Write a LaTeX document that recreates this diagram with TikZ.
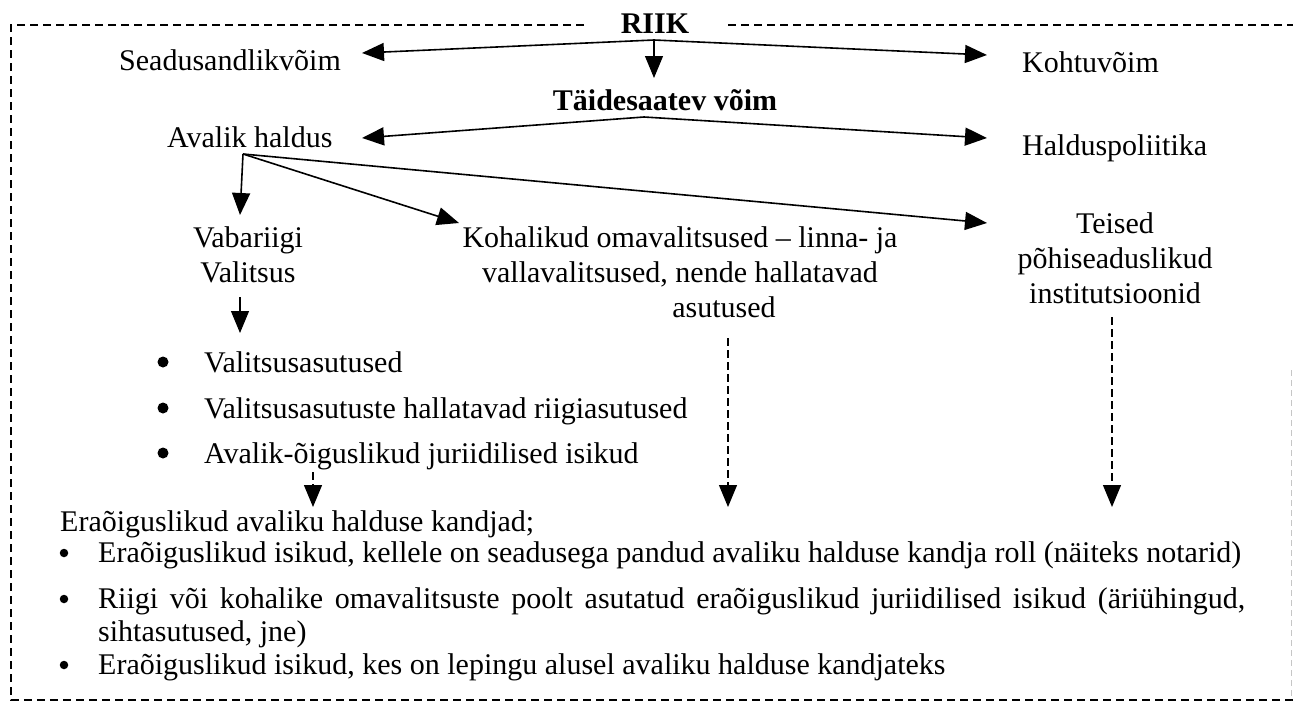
\documentclass[tikz,border=0pt]{standalone}
\usepackage{fontspec}
\setmainfont{Liberation Serif}
\usetikzlibrary{arrows.meta}
\begin{document}
\begin{tikzpicture}[x=1pt,y=-1pt,
  txt/.style={inner sep=0pt, font=\fontsize{30}{35}\selectfont},
  txt1/.style={txt, text height=20pt, text depth=0pt},
  btxt/.style={txt1, font=\fontsize{30}{35}\selectfont\bfseries},
  arr/.style={line width=1.6pt, -{Triangle[length=22pt,width=18pt]}},
  darr/.style={line width=1.3pt, dash pattern=on 8pt off 4pt, -{Triangle[length=22pt,width=18pt]}},
  frame/.style={line width=1.7pt, dash pattern=on 8pt off 5pt},
  bigdot/.style={circle, fill=black, inner sep=0pt, minimum size=11pt},
  smalldot/.style={circle, fill=black, inner sep=0pt, minimum size=8.5pt},
]
\useasboundingbox (0,0) rectangle (1293,704);

% frame
\draw[frame] (584,25) -- (11,25) -- (11,700) -- (1293,700);
\draw[frame] (728,25) -- (1293,25);
\draw[gray!45, line width=1pt, dash pattern=on 6pt off 4pt] (1291,370) -- (1291,700);

% texts
\node[btxt] (riik) at (655,23) {RIIK};
\node[txt1,anchor=west] (seadus) at (119,60) {Seadusandlikvõim};
\node[txt1,anchor=west] (kohtu) at (1022,62) {Kohtuvõim};
\node[btxt] (taide) at (665,100) {Täidesaatev võim};
\node[txt1,anchor=west] (avalik) at (167,137) {Avalik haldus};
\node[txt1,anchor=west] (haldpol) at (1022,145) {Halduspoliitika};
\node[txt,align=center] (vabariigi) at (248,255) {Vabariigi\\Valitsus};
\node[txt,align=center] (kohalik) at (680,272) {Kohalikud omavalitsused – linna- ja\\vallavalitsused, nende hallatavad\\\hspace*{88pt}asutused};
\node[txt,align=center] (teised) at (1115,258) {Teised\\põhiseaduslikud\\institutsioonid};

% upper list
\node[bigdot] (b1) at (163,362) {};
\node[bigdot] (b2) at (163,408) {};
\node[bigdot] (b3) at (163,453) {};
\node[txt1,anchor=west] (l1) at (204,362) {Valitsusasutused};
\node[txt1,anchor=west] (l2) at (204,408) {Valitsusasutuste hallatavad riigiasutused};
\node[txt1,anchor=west] (l3) at (204,453) {Avalik-õiguslikud juriidilised isikud};

% lower block
\node[txt1,anchor=west] (era) at (60,521) {Eraõiguslikud avaliku halduse kandjad;};
\node[smalldot] (c1) at (64,553) {};
\node[smalldot] (c2) at (64,599) {};
\node[smalldot] (c3) at (64,665) {};
\node[txt1,anchor=west] (e1) at (98,552) {Eraõiguslikud isikud, kellele on seadusega pandud avaliku halduse kandja roll (näiteks notarid)};
\node[txt1,anchor=west] (e2) at (98,598) {\makebox[1147pt][s]{Riigi või kohalike omavalitsuste poolt asutatud eraõiguslikud juriidilised isikud (äriühingud,}};
\node[txt1,anchor=west] (e2b) at (98,631) {sihtasutused, jne)};
\node[txt1,anchor=west] (e3) at (98,664) {Eraõiguslikud isikud, kes on lepingu alusel avaliku halduse kandjateks};

% connector points
\coordinate (riikO) at (654,40);
\coordinate (seadusT) at (362,53);
\coordinate (kohtuT) at (987,55);
\coordinate (taideT) at (654,78);
\coordinate (taideO) at (644,117);
\coordinate (avalikT) at (362,138);
\coordinate (haldpolT) at (987,138);
\coordinate (avalikO) at (243,154);
\coordinate (vabT) at (240,215);
\coordinate (kohT) at (459,223);
\coordinate (teisedT) at (987,223);
\coordinate (vabO) at (240,297);
\coordinate (listT) at (240,333);
\coordinate (d1O) at (313,472);
\coordinate (d1T) at (313,507);
\coordinate (d2O) at (728,338);
\coordinate (d2T) at (728,507);
\coordinate (d3O) at (1112,317);
\coordinate (d3T) at (1112,507);

% connectors
\draw[arr] (riikO) -- (seadusT);
\draw[arr] (riikO) -- (kohtuT);
\draw[arr, line width=1.1pt] (riikO) -- (taideT);
\draw[arr] (taideO) -- (avalikT);
\draw[arr] (taideO) -- (haldpolT);
\draw[arr] (avalikO) -- (vabT);
\draw[arr] (avalikO) -- (kohT);
\draw[arr] (avalikO) -- (teisedT);
\draw[arr, line width=1.1pt] (vabO) -- (listT);
\draw[darr] (d1O) -- (d1T);
\draw[darr] (d2O) -- (d2T);
\draw[darr] (d3O) -- (d3T);
\end{tikzpicture}
\end{document}
